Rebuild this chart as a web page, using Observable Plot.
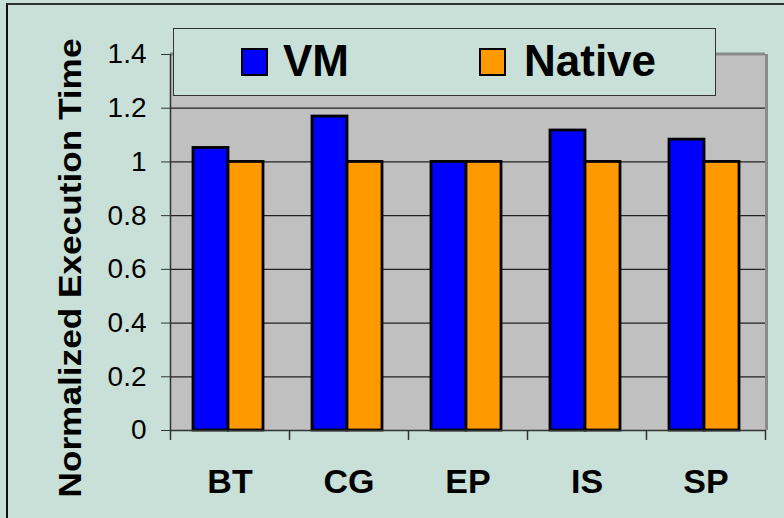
<!DOCTYPE html>
<html><head><meta charset="utf-8">
<script src="https://cdn.jsdelivr.net/npm/d3@7"></script>
<script src="https://cdn.jsdelivr.net/npm/@observablehq/plot@0.6"></script>
<style>
body{margin:0;background:#c8e0d8;font-family:"Liberation Sans",Arial,sans-serif;}
#wrap{position:relative;width:784px;height:518px;overflow:hidden;background:#c8e0d8;}
#border{position:absolute;left:6px;top:3px;width:820px;height:620px;border-left:2px solid #111;border-top:2px solid #333;pointer-events:none;}
#legend{position:absolute;left:173px;top:28px;width:543px;height:68px;border:1px solid #333;background:#c8e0d8;box-sizing:border-box;}
.sw{position:absolute;top:19px;width:27px;height:28px;border:2px solid #000;box-sizing:border-box;}
.lt{position:absolute;top:10px;font-size:44px;line-height:44px;font-weight:bold;color:#000;white-space:nowrap;}
</style>
</head><body>
<div id="wrap"></div>
<script>
const categories = ["BT", "CG", "EP", "IS", "SP"];
const seriesNames = ["VM", "Native"];
const vmValues = [1.052, 1.169, 1.0, 1.117, 1.083];
const nativeValues = [1, 1, 1, 1, 1];
const yTicks = [0, 0.2, 0.4, 0.6, 0.8, 1, 1.2, 1.4];
const colors = {VM: "#0000ff", Native: "#ff9900"};
const title = "Normalized Execution Time";

const vmData = categories.map((c, i) => ({cat: c, series: "VM", value: vmValues[i]}));
const nativeData = categories.map((c, i) => ({cat: c, series: "Native", value: nativeValues[i]}));

const half = 59.5;
const chart = Plot.plot({
  width: 784, height: 518,
  marginLeft: 170, marginRight: 19, marginTop: 54, marginBottom: 88,
  style: {background: "transparent", fontFamily: "'Liberation Sans', Arial, sans-serif", color: "#000", overflow: "visible"},
  x: {domain: categories, padding: 0, label: null},
  y: {domain: [0, 1.4], label: null},
  marks: [
    Plot.frame({fill: "#c0c0c0", stroke: null}),
    Plot.gridY(yTicks, {stroke: "#222", strokeOpacity: 1, strokeWidth: 1.2}),
    Plot.ruleY([1.4], {stroke: "#8a8a8a", strokeWidth: 3, dy: -0.5}),
    Plot.ruleX([categories[categories.length - 1]], {x: d => d, stroke: "#8a8a8a", strokeWidth: 3, dx: half + 1}),
    Plot.barY(vmData, {x: "cat", y: "value", fill: colors.VM, stroke: "#000", strokeWidth: 2.8, insetLeft: 23, insetRight: 61}),
    Plot.barY(nativeData, {x: "cat", y: "value", fill: colors.Native, stroke: "#000", strokeWidth: 2.8, insetLeft: 58, insetRight: 26}),
    Plot.ruleX([categories[0]], {x: d => d, dx: -half, stroke: "#333", strokeWidth: 1.5}),
    Plot.ruleY([0], {stroke: "#333", strokeWidth: 1.5}),
    Plot.axisY(yTicks, {tickSize: 9, tickPadding: 15, fontSize: 28, tickFormat: d => String(d), stroke: "#333", label: null}),
    Plot.ruleX(categories, {x: d => d, y1: 0, y2: -0.037, dx: -half, stroke: "#333", strokeWidth: 1.5}),
    Plot.ruleX([categories[categories.length - 1]], {x: d => d, y1: 0, y2: -0.037, dx: half, stroke: "#333", strokeWidth: 1.5}),
    Plot.axisX({tickSize: 0, tickPadding: 38, fontSize: 34, fontWeight: "bold", label: null}),
    Plot.text([title], {frameAnchor: "bottom-left", textAnchor: "start", rotate: -90, dx: -90, dy: 67, fontSize: 31, fontWeight: "bold", fill: "#000"})
  ]
});
d3.select(chart).selectAll("text").filter(function() { return this.textContent === title; })
  .attr("textLength", 459).attr("lengthAdjust", "spacingAndGlyphs");

const wrap = document.getElementById("wrap");
wrap.appendChild(chart);
const legend = document.createElement("div");
legend.id = "legend";
const pos = {VM: {sw: 67, tx: 109}, Native: {sw: 305, tx: 350}};
seriesNames.forEach(s => {
  const sw = document.createElement("div");
  sw.className = "sw"; sw.style.left = pos[s].sw + "px"; sw.style.background = colors[s];
  const tx = document.createElement("div");
  tx.className = "lt"; tx.style.left = pos[s].tx + "px"; tx.textContent = s;
  legend.appendChild(sw); legend.appendChild(tx);
});
wrap.appendChild(legend);
const border = document.createElement("div");
border.id = "border";
wrap.appendChild(border);
</script>
</body></html>
